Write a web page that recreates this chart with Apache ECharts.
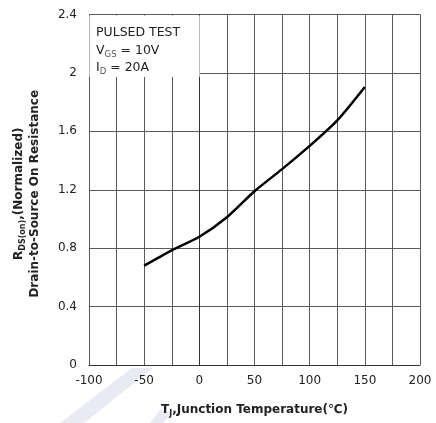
<!DOCTYPE html>
<html>
<head>
<meta charset="utf-8">
<script src="https://cdn.jsdelivr.net/npm/echarts@6/dist/echarts.min.js"></script>
<style>html,body{margin:0;padding:0;background:#fff;}#c{width:436px;height:423px;}</style>
</head>
<body>
<div id="c"></div>
<script>
// Data
const temperature = [-50, -25, 0, 25, 50, 75, 100, 125, 150];
const rdsNormalized = [0.68, 0.785, 0.878, 1.012, 1.19, 1.341, 1.50, 1.675, 1.904];
const xTickLabels = [-100, -50, 0, 50, 100, 150, 200];
const yTickLabels = [0, 0.4, 0.8, 1.2, 1.6, 2, 2.4];

const chart = echarts.init(document.getElementById('c'));
const txt = '#222';
const fam = "'DejaVu Sans', sans-serif";
chart.setOption({
  animation: false,
  backgroundColor: '#fff',
  graphic: [
    { type: 'polygon', z: -1, shape: { points: [[132,368],[153,368],[84,423],[60,423]] }, style: { fill: '#eaeaf5' } },
    { type: 'polygon', z: -1, shape: { points: [[160,410],[172,413],[163,423],[150,423]] }, style: { fill: '#eaeaf5' } },
    {
      type: 'text', x: 96, y: 24, z: 100,
      style: {
        text: '{n|PULSED TEST}\n{n|V}{s|GS}{n| = 10V}\n{n|I}{s|D}{n| = 20A}',
        rich: {
          n: { fontSize: 12.5, fontFamily: fam, fill: txt, lineHeight: 17.5, verticalAlign: 'middle' },
          s: { fontSize: 8.5, fontFamily: fam, fill: '#555', lineHeight: 9, verticalAlign: 'bottom' }
        }
      }
    }
  ],
  grid: { left: 89, right: 16, top: 14.5, bottom: 56 },
  xAxis: {
    type: 'value', min: -100, max: 200, interval: 25,
    axisLine: { show: true, onZero: false, lineStyle: { color: '#333', width: 1 } },
    axisTick: { show: false },
    splitLine: { show: true, lineStyle: { color: '#5a5a5a', width: 1 } },
    axisLabel: {
      color: txt, fontSize: 12, fontFamily: fam, margin: 10,
      formatter: v => xTickLabels.indexOf(v) >= 0 ? String(v) : ''
    },
    name: '{b|T}{bs|J}{b|,Junction Temperature(℃)}',
    nameLocation: 'middle', nameGap: 37,
    nameTextStyle: {
      rich: {
        b: { fontSize: 12, fontWeight: 'bold', fontFamily: fam, color: txt, lineHeight: 16, verticalAlign: 'middle' },
        bs: { fontSize: 8, fontWeight: 'bold', fontFamily: fam, color: txt, lineHeight: 8, verticalAlign: 'bottom' }
      }
    }
  },
  yAxis: {
    type: 'value', min: 0, max: 2.4, interval: 0.4,
    axisLine: { show: true, lineStyle: { color: '#333', width: 1 } },
    axisTick: { show: false },
    splitLine: { show: true, lineStyle: { color: '#5a5a5a', width: 1 } },
    axisLabel: {
      color: txt, fontSize: 12, fontFamily: fam, margin: 12,
      formatter: v => { const m = yTickLabels.find(t => Math.abs(t - v) < 1e-9); return m === undefined ? '' : String(m); }
    },
    name: '{b|R}{bs|DS(on)}{b|,(Normalized)}\n{b|Drain-to-Source On Resistance}',
    nameLocation: 'middle', nameGap: 46, nameRotate: 90,
    nameTextStyle: {
      align: 'center',
      padding: [0, 8, 0, 0],
      rich: {
        b: { fontSize: 12, fontWeight: 'bold', fontFamily: fam, color: txt, lineHeight: 16, verticalAlign: 'middle', align: 'center' },
        bs: { fontSize: 8, fontWeight: 'bold', fontFamily: fam, color: txt, lineHeight: 8, verticalAlign: 'bottom' }
      }
    }
  },
  series: [{
    type: 'line',
    data: temperature.map((t, i) => [t, rdsNormalized[i]]),
    smooth: 0.25,
    showSymbol: false,
    lineStyle: { color: '#000', width: 2.5 },
    markArea: {
      silent: true,
      itemStyle: { color: '#fff', opacity: 1 },
      data: [[{ coord: [-99.6, 2.393] }, { coord: [0.3, 1.972] }]]
    }
  }]
});
</script>
</body>
</html>
